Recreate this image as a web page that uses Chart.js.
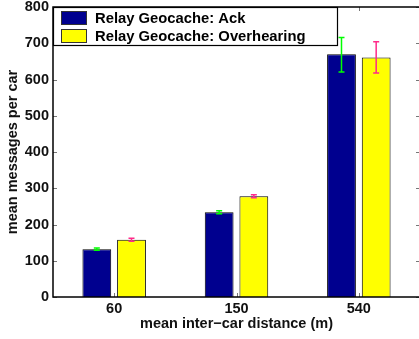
<!DOCTYPE html>
<html>
<head>
<meta charset="utf-8">
<script src="https://cdn.jsdelivr.net/npm/chart.js@4"></script>
<style>
  html, body { margin: 0; padding: 0; background: #fff; overflow: hidden; }
  #wrap { width: 424px; height: 339px; }
</style>
</head>
<body>
<div id="wrap"><canvas id="chart" width="424" height="339"></canvas></div>
<script>
// Data läst från bilden
const categories = ['60', '150', '540'];
const seriesNames = ['Relay Geocache: Ack', 'Relay Geocache: Overhearing'];
const ackMean = [132, 234, 670];
const ackLow = [129, 230, 621];
const ackHigh = [135, 238, 716];
const overMean = [158, 278, 661];
const overLow = [154, 274, 618];
const overHigh = [162, 282, 704];
const yTicks = [0, 100, 200, 300, 400, 500, 600, 700, 800];

const FONT = '"Liberation Sans", Arial, Helvetica, sans-serif';

// Felstaplar + ram + inåtriktade tickmarkeringar
const extrasPlugin = {
    id: 'extras',
    afterDatasetsDraw(chart) {
        const ctx = chart.ctx;
        const y = chart.scales.y;
        const errs = [[ackLow, ackHigh], [overLow, overHigh]];
        chart.data.datasets.forEach((ds, di) => {
            const meta = chart.getDatasetMeta(di);
            ctx.save();
            ctx.strokeStyle = ds.errColor;
            ctx.lineWidth = 1.5;
            meta.data.forEach((bar, i) => {
                const lo = y.getPixelForValue(errs[di][0][i]);
                const hi = y.getPixelForValue(errs[di][1][i]);
                ctx.beginPath();
                ctx.moveTo(bar.x, lo); ctx.lineTo(bar.x, hi);
                ctx.moveTo(bar.x - 3, lo); ctx.lineTo(bar.x + 3, lo);
                ctx.moveTo(bar.x - 3, hi); ctx.lineTo(bar.x + 3, hi);
                ctx.stroke();
            });
            ctx.restore();
        });
    },
    afterDraw(chart) {
        const ctx = chart.ctx;
        const a = chart.chartArea;
        const x = chart.scales.x;
        const y = chart.scales.y;
        ctx.save();
        // tickmarkeringar
        ctx.strokeStyle = '#777';
        ctx.lineWidth = 1;
        ctx.beginPath();
        yTicks.forEach(v => {
            const py = Math.round(y.getPixelForValue(v)) + 0.5;
            ctx.moveTo(a.left, py); ctx.lineTo(a.left + 4, py);
            ctx.moveTo(a.right, py); ctx.lineTo(a.right - 4, py);
        });
        categories.forEach((c, i) => {
            const px = Math.round(x.getPixelForValue(i)) + 0.5;
            ctx.moveTo(px, a.bottom); ctx.lineTo(px, a.bottom - 4);
            ctx.moveTo(px, a.top); ctx.lineTo(px, a.top + 4);
        });
        ctx.stroke();
        // ram
        ctx.strokeStyle = '#000';
        ctx.lineWidth = 1.5;
        ctx.strokeRect(a.left, a.top, a.right - a.left, a.bottom - a.top);

        // förklaring
        const bx = a.left, by = a.top, bw = 284, bh = 38;
        ctx.fillStyle = '#fff';
        ctx.fillRect(bx, by, bw, bh);
        ctx.lineWidth = 1.2;
        ctx.strokeRect(bx + 0.5, by + 0.5, bw, bh);
        ctx.font = 'bold 14.8px ' + FONT;
        ctx.textBaseline = 'middle';
        chart.data.datasets.forEach((ds, i) => {
            const cy = by + 10.5 + i * 18;
            ctx.fillStyle = ds.backgroundColor;
            ctx.fillRect(bx + 8, cy - 6.5, 25, 13);
            ctx.strokeStyle = '#333';
            ctx.lineWidth = 1;
            ctx.strokeRect(bx + 8.5, cy - 6, 25, 13);
            ctx.fillStyle = '#000';
            ctx.fillText(ds.label, bx + 42, cy + 1);
        });
        ctx.restore();
    }
};

new Chart(document.getElementById('chart'), {
    type: 'bar',
    data: {
        labels: categories,
        datasets: [
            {
                label: seriesNames[0],
                data: ackMean,
                backgroundColor: '#00008f',
                borderColor: '#000',
                borderWidth: 1,
                errColor: '#00ff00'
            },
            {
                label: seriesNames[1],
                data: overMean,
                backgroundColor: '#ffff00',
                borderColor: '#000',
                borderWidth: 1,
                errColor: '#ff2a8a'
            }
        ]
    },
    options: {
        responsive: false,
        animation: false,
        events: [],
        layout: { autoPadding: false, padding: { top: 7, right: 4, left: 0, bottom: 0 } },
        categoryPercentage: 0.567,
        barPercentage: 0.83,
        plugins: {
            legend: { display: false },
            tooltip: { enabled: false }
        },
        scales: {
            x: {
                grid: { display: false, drawTicks: false },
                border: { display: false },
                ticks: {
                    color: '#111',
                    padding: 3,
                    font: { family: FONT, size: 14.5, weight: 'bold' }
                },
                title: {
                    display: true,
                    text: 'mean inter−car distance (m)',
                    color: '#111',
                    padding: { top: 6, bottom: 6 },
                    font: { family: FONT, size: 14.5, weight: 'bold' }
                },
                afterFit(scale) {
                    scale.height = 42;
                    scale.paddingLeft = 0;
                    scale.paddingRight = 0;
                }
            },
            y: {
                min: 0,
                max: 800,
                afterBuildTicks(scale) {
                    scale.ticks = yTicks.map(v => ({ value: v }));
                },
                grid: { display: false, drawTicks: false },
                border: { display: false },
                ticks: {
                    color: '#111',
                    padding: 4,
                    font: { family: FONT, size: 14.5, weight: 'bold' }
                },
                title: {
                    display: true,
                    text: 'mean messages per car',
                    color: '#111',
                    padding: { top: 4, bottom: 4 },
                    font: { family: FONT, size: 14.5, weight: 'bold' }
                },
                afterFit(scale) {
                    scale.width = 53;
                    scale.paddingTop = 0;
                    scale.paddingBottom = 0;
                }
            }
        }
    },
    plugins: [extrasPlugin]
});
</script>
</body>
</html>
